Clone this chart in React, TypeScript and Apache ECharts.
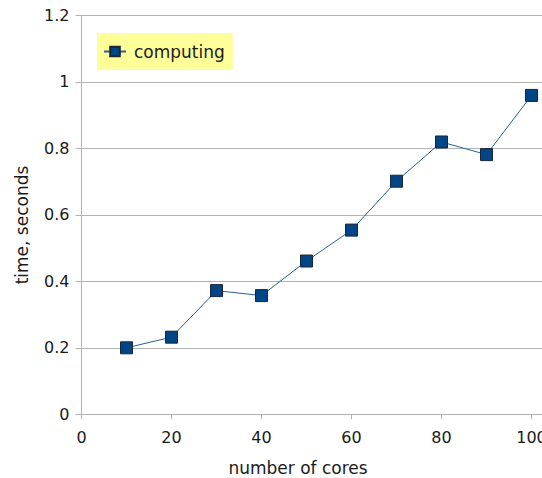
import React, { useEffect, useRef } from "react";
import * as echarts from "echarts";

const cores = [10, 20, 30, 40, 50, 60, 70, 80, 90, 100];
const computingTime = [0.2, 0.232, 0.372, 0.357, 0.461, 0.554, 0.701, 0.819, 0.781, 0.959];
const seriesName = "computing";
const xTitle = "number of cores";
const yTitle = "time, seconds";

const FONT = "DejaVu Sans";

export default function App() {
  const ref = useRef<HTMLDivElement>(null);
  useEffect(() => {
    if (!ref.current) return;
    const chart = echarts.init(ref.current, undefined, { renderer: "svg" });
    const data = cores.map((c, i) => [c, computingTime[i]]);
    chart.setOption({
      animation: false,
      backgroundColor: "#ffffff",
      textStyle: { fontFamily: FONT },
      grid: {
        left: 81.5,
        top: 15.3,
        right: 0,
        bottom: 63.7,
        containLabel: false,
        outerBoundsMode: "none",
      },
      legend: {
        show: true,
        left: 97,
        top: 33,
        orient: "vertical",
        backgroundColor: "#ffff99",
        padding: [10, 8, 10, 6],
        itemWidth: 22,
        itemHeight: 12,
        itemGap: 10,
        textStyle: { fontFamily: FONT, fontSize: 17, color: "#1a1a1a", padding: [0, 0, 0, 3] },
        data: [seriesName],
      },
      xAxis: {
        type: "value",
        min: 0,
        max: 102.33,
        interval: 20,
        axisLine: { show: true, lineStyle: { color: "#b3b3b3", width: 1 } },
        axisTick: { show: true, length: 5, lineStyle: { color: "#b3b3b3" } },
        splitLine: { show: false },
        axisLabel: {
          color: "#1a1a1a",
          fontFamily: FONT,
          fontSize: 16,
          margin: 15,
          showMaxLabel: false,
          formatter: (v: number) => (Math.abs(v % 20) < 1e-6 ? String(v) : ""),
        },
      },
      yAxis: {
        type: "value",
        min: 0,
        max: 1.2,
        interval: 0.2,
        axisLine: { show: true, lineStyle: { color: "#b3b3b3", width: 1 } },
        axisTick: { show: true, length: 6, lineStyle: { color: "#b3b3b3" } },
        splitLine: { show: true, lineStyle: { color: "#b3b3b3", width: 1 } },
        axisLabel: {
          color: "#1a1a1a",
          fontFamily: FONT,
          fontSize: 16,
          margin: 12,
        },
      },
      graphic: [
        {
          type: "text",
          x: 22,
          y: 225,
          rotation: Math.PI / 2,
          style: {
            text: yTitle,
            fontFamily: FONT,
            fontSize: 17,
            fill: "#1a1a1a",
            align: "center",
            verticalAlign: "middle",
          },
        },
        {
          type: "text",
          x: 298,
          y: 468,
          style: {
            text: xTitle,
            fontFamily: FONT,
            fontSize: 17,
            fill: "#1a1a1a",
            align: "center",
            verticalAlign: "middle",
          },
        },
      ],
      series: [
        {
          name: seriesName,
          type: "line",
          data,
          symbol: "rect",
          symbolSize: 12,
          lineStyle: { color: "#2a5f9a", width: 1 },
          itemStyle: { color: "#004586", borderColor: "#1b2636", borderWidth: 1 },
        },
      ],
    });
    return () => chart.dispose();
  }, []);
  return (
    <div
      ref={ref}
      style={{ position: "fixed", left: 0, top: 0, width: 542, height: 478 }}
    />
  );
}
